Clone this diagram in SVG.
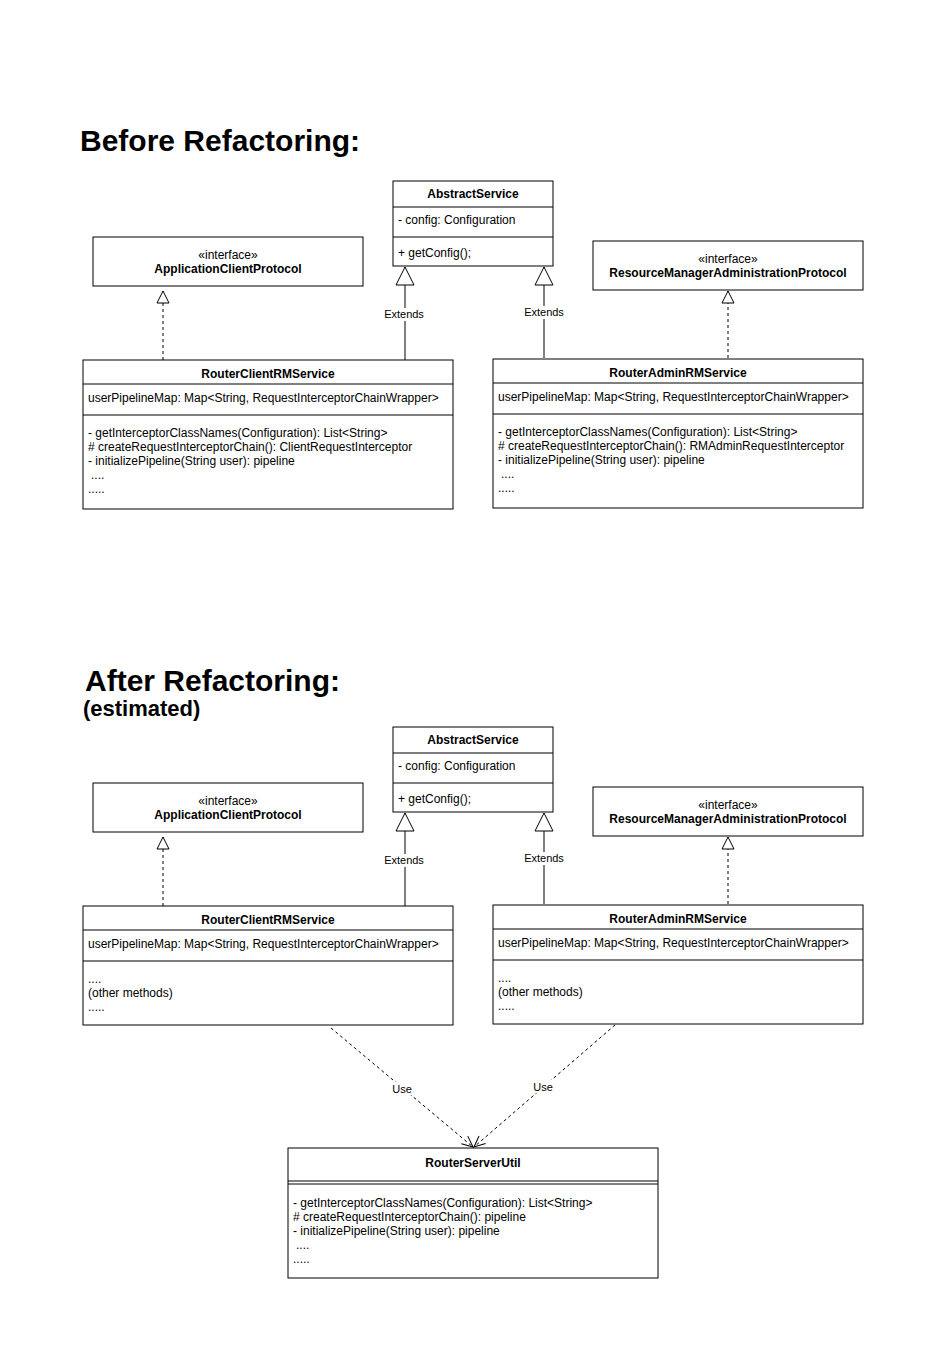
<svg xmlns="http://www.w3.org/2000/svg" width="931" height="1361" viewBox="0 0 931 1361">
<style>
.bg{fill:#ffffff}
.box{fill:#ffffff;stroke:#000000;stroke-width:1}
.sep{stroke:#000000;stroke-width:1}
.t{font-family:"Liberation Sans",Arial,Helvetica,sans-serif;font-size:12px;fill:#000000}
.b{font-weight:bold}
.c{text-anchor:middle}
.title{font-family:"Liberation Sans",Arial,Helvetica,sans-serif;font-weight:bold;fill:#000000}
.solid{stroke:#000000;stroke-width:1;fill:none}
.dash{stroke:#000000;stroke-width:1;fill:none;stroke-dasharray:3 3}
.lbl{font-family:"Liberation Sans",Arial,Helvetica,sans-serif;font-size:11px;fill:#000000;text-anchor:middle}
.lblbg{fill:#ffffff}
</style>
<defs>
<marker id="gen" markerUnits="userSpaceOnUse" markerWidth="20" markerHeight="20" refX="18" refY="9" orient="auto" viewBox="-1 -1 20 20">
<path d="M0,0 L18,9 L0,18 Z" fill="#ffffff" stroke="#000000" stroke-width="1"/>
</marker>
<marker id="real" markerUnits="userSpaceOnUse" markerWidth="14" markerHeight="14" refX="12" refY="6" orient="auto" viewBox="-1 -1 14 14">
<path d="M0,0 L12,6 L0,12 Z" fill="#ffffff" stroke="#000000" stroke-width="1"/>
</marker>
<marker id="open" markerUnits="userSpaceOnUse" markerWidth="14" markerHeight="14" refX="11" refY="5" orient="auto" viewBox="-1 -1 14 12">
<path d="M0,0 L11,5 L0,10" fill="none" stroke="#000000" stroke-width="1"/>
</marker>
</defs>
<rect class="bg" x="0" y="0" width="931" height="1361"/>

<g id="titles">
<text class="title" x="80" y="151" font-size="30">Before Refactoring:</text>
<text class="title" x="85" y="691" font-size="30">After Refactoring:</text>
<text class="title" x="83" y="716" font-size="22">(estimated)</text>
</g>

<g id="connectors">
<!-- Before -->
<line class="dash" x1="163" y1="360" x2="163" y2="291" marker-end="url(#real)"/>
<line class="solid" x1="405" y1="360" x2="405" y2="267" marker-end="url(#gen)"/>
<rect class="lblbg" x="383" y="308" width="44" height="13"/>
<text class="lbl" x="404" y="318">Extends</text>
<line class="solid" x1="544" y1="358" x2="544" y2="267" marker-end="url(#gen)"/>
<rect class="lblbg" x="522" y="306" width="44" height="13"/>
<text class="lbl" x="544" y="316">Extends</text>
<line class="dash" x1="728" y1="358" x2="728" y2="291" marker-end="url(#real)"/>
<!-- After -->
<line class="dash" x1="163" y1="906" x2="163" y2="837" marker-end="url(#real)"/>
<line class="solid" x1="405" y1="906" x2="405" y2="813" marker-end="url(#gen)"/>
<rect class="lblbg" x="383" y="854" width="44" height="13"/>
<text class="lbl" x="404" y="864">Extends</text>
<line class="solid" x1="544" y1="904" x2="544" y2="813" marker-end="url(#gen)"/>
<rect class="lblbg" x="522" y="852" width="44" height="13"/>
<text class="lbl" x="544" y="862">Extends</text>
<line class="dash" x1="728" y1="904" x2="728" y2="837" marker-end="url(#real)"/>
<line class="dash" x1="331" y1="1028" x2="473" y2="1147" marker-end="url(#open)"/>
<rect class="lblbg" x="391" y="1082" width="22" height="13"/>
<text class="lbl" x="402" y="1093">Use</text>
<line class="dash" x1="615" y1="1025" x2="474" y2="1147" marker-end="url(#open)"/>
<rect class="lblbg" x="532" y="1080" width="22" height="13"/>
<text class="lbl" x="543" y="1091">Use</text>
</g>

<g id="before-abstractservice">
<rect class="box" x="393" y="181" width="160" height="85"/>
<line class="sep" x1="393" y1="207" x2="553" y2="207"/>
<line class="sep" x1="393" y1="237" x2="553" y2="237"/>
<text class="t b c" x="473" y="198">AbstractService</text>
<text class="t" x="398" y="224">- config: Configuration</text>
<text class="t" x="398" y="257">+ getConfig();</text>
</g>

<g id="before-applicationclientprotocol">
<rect class="box" x="93" y="237" width="270" height="49"/>
<text class="t c" x="228" y="259">«interface»</text>
<text class="t b c" x="228" y="273">ApplicationClientProtocol</text>
</g>

<g id="before-resourcemanageradministrationprotocol">
<rect class="box" x="593" y="241" width="270" height="49"/>
<text class="t c" x="728" y="263">«interface»</text>
<text class="t b c" x="728" y="277">ResourceManagerAdministrationProtocol</text>
</g>

<g id="before-routerclientrmservice">
<rect class="box" x="83" y="360" width="370" height="149"/>
<line class="sep" x1="83" y1="384" x2="453" y2="384"/>
<line class="sep" x1="83" y1="415" x2="453" y2="415"/>
<text class="t b c" x="268" y="378">RouterClientRMService</text>
<text class="t" x="88" y="402">userPipelineMap: Map&lt;String, RequestInterceptorChainWrapper&gt;</text>
<text class="t" x="88" y="437">- getInterceptorClassNames(Configuration): List&lt;String&gt;</text>
<text class="t" x="88" y="451"># createRequestInterceptorChain(): ClientRequestInterceptor</text>
<text class="t" x="88" y="465">- initializePipeline(String user): pipeline</text>
<text class="t" x="91" y="479">....</text>
<text class="t" x="88" y="493">.....</text>
</g>

<g id="before-routeradminrmservice">
<rect class="box" x="493" y="359" width="370" height="149"/>
<line class="sep" x1="493" y1="383" x2="863" y2="383"/>
<line class="sep" x1="493" y1="414" x2="863" y2="414"/>
<text class="t b c" x="678" y="377">RouterAdminRMService</text>
<text class="t" x="498" y="401">userPipelineMap: Map&lt;String, RequestInterceptorChainWrapper&gt;</text>
<text class="t" x="498" y="436">- getInterceptorClassNames(Configuration): List&lt;String&gt;</text>
<text class="t" x="498" y="450"># createRequestInterceptorChain(): RMAdminRequestInterceptor</text>
<text class="t" x="498" y="464">- initializePipeline(String user): pipeline</text>
<text class="t" x="501" y="478">....</text>
<text class="t" x="498" y="492">.....</text>
</g>

<g id="after-abstractservice">
<rect class="box" x="393" y="727" width="160" height="85"/>
<line class="sep" x1="393" y1="753" x2="553" y2="753"/>
<line class="sep" x1="393" y1="783" x2="553" y2="783"/>
<text class="t b c" x="473" y="744">AbstractService</text>
<text class="t" x="398" y="770">- config: Configuration</text>
<text class="t" x="398" y="803">+ getConfig();</text>
</g>

<g id="after-applicationclientprotocol">
<rect class="box" x="93" y="783" width="270" height="49"/>
<text class="t c" x="228" y="805">«interface»</text>
<text class="t b c" x="228" y="819">ApplicationClientProtocol</text>
</g>

<g id="after-resourcemanageradministrationprotocol">
<rect class="box" x="593" y="787" width="270" height="49"/>
<text class="t c" x="728" y="809">«interface»</text>
<text class="t b c" x="728" y="823">ResourceManagerAdministrationProtocol</text>
</g>

<g id="after-routerclientrmservice">
<rect class="box" x="83" y="906" width="370" height="119"/>
<line class="sep" x1="83" y1="930" x2="453" y2="930"/>
<line class="sep" x1="83" y1="961" x2="453" y2="961"/>
<text class="t b c" x="268" y="924">RouterClientRMService</text>
<text class="t" x="88" y="948">userPipelineMap: Map&lt;String, RequestInterceptorChainWrapper&gt;</text>
<text class="t" x="88" y="983">....</text>
<text class="t" x="88" y="997">(other methods)</text>
<text class="t" x="88" y="1011">.....</text>
</g>

<g id="after-routeradminrmservice">
<rect class="box" x="493" y="905" width="370" height="119"/>
<line class="sep" x1="493" y1="929" x2="863" y2="929"/>
<line class="sep" x1="493" y1="960" x2="863" y2="960"/>
<text class="t b c" x="678" y="923">RouterAdminRMService</text>
<text class="t" x="498" y="947">userPipelineMap: Map&lt;String, RequestInterceptorChainWrapper&gt;</text>
<text class="t" x="498" y="982">....</text>
<text class="t" x="498" y="996">(other methods)</text>
<text class="t" x="498" y="1010">.....</text>
</g>

<g id="routerserverutil">
<rect class="box" x="288" y="1148" width="370" height="130"/>
<line class="sep" x1="288" y1="1181" x2="658" y2="1181"/>
<line class="sep" x1="288" y1="1184" x2="658" y2="1184"/>
<text class="t b c" x="473" y="1167">RouterServerUtil</text>
<text class="t" x="293" y="1207">- getInterceptorClassNames(Configuration): List&lt;String&gt;</text>
<text class="t" x="293" y="1221"># createRequestInterceptorChain(): pipeline</text>
<text class="t" x="293" y="1235">- initializePipeline(String user): pipeline</text>
<text class="t" x="296" y="1249">....</text>
<text class="t" x="293" y="1263">.....</text>
</g>
</svg>
